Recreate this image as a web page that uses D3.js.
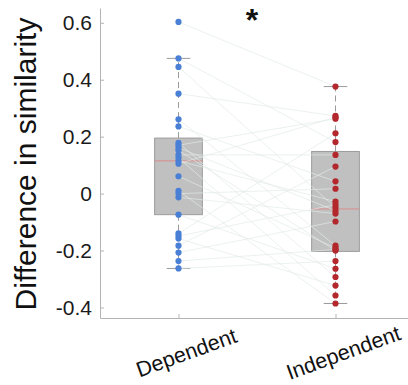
<!DOCTYPE html>
<html>
<head>
<meta charset="utf-8">
<script src="https://cdn.jsdelivr.net/npm/d3@7"></script>
<style>
  html, body { margin: 0; padding: 0; background: #fff; }
  svg { display: block; }
  text { font-family: "Liberation Sans", Arial, Helvetica, sans-serif; }
</style>
</head>
<body>
<svg id="chart" width="408" height="385"></svg>
<script>
// Conditions on the x axis
const conditions = ["Dependent", "Independent"];

// Per-subject similarity differences (paired: subject i in both arrays)
const dependent = [
  0.603, 0.475, 0.445, 0.351, 0.261, 0.236, 0.178, 0.170, 0.161, 0.152,
  0.136, 0.126, 0.115, 0.105, 0.061, 0.010, 0.000, -0.013, -0.074, -0.140,
  -0.149, -0.158, -0.183, -0.207, -0.237, -0.263
];
const independent = [
  0.376, 0.181, -0.049, 0.273, -0.183, 0.043, -0.293, 0.263, -0.060, -0.200,
  0.136, -0.358, -0.028, 0.268, -0.191, -0.386, 0.017, -0.070, -0.264, 0.212,
  -0.039, -0.323, 0.095, -0.098, -0.196, -0.237
];

// Box summaries per condition: [lower whisker, Q1, median, Q3, upper whisker]
const boxDependent   = [-0.263, -0.074, 0.115, 0.195, 0.475];
const boxIndependent = [-0.386, -0.203, -0.054, 0.148, 0.376];

// Y tick values
const yTicks = [-0.4, -0.2, 0, 0.2, 0.4, 0.6];

const svg = d3.select("#chart");

const x = d3.scaleLinear().domain([0.5, 2.5]).range([100, 414]);
const y = d3.scaleLinear().domain([-0.437, 0.652]).range([318, 8]);

const axisColor = "#b4b4b4";
const boxHalf = 0.152;   // half box width, in x units
const capHalf = 0.075;   // half whisker-cap width

// Y axis (ticks pointing inward)
const yAxis = svg.append("g")
  .attr("transform", `translate(${x(0.5)},0)`)
  .call(d3.axisLeft(y).tickValues(yTicks).tickSizeInner(-4).tickSizeOuter(0)
    .tickPadding(8).tickFormat(d => d === 0 ? "0" : String(d)));
yAxis.select(".domain").attr("stroke", axisColor);
yAxis.selectAll(".tick line").attr("stroke", axisColor);
yAxis.selectAll(".tick text").attr("fill", "#1a1a1a").style("font-size", "21px");

// X axis (ticks pointing inward, labels drawn separately)
const xAxis = svg.append("g")
  .attr("transform", `translate(0,${y(-0.437)})`)
  .call(d3.axisBottom(x).tickValues([1, 2]).tickSizeInner(-4).tickSizeOuter(0)
    .tickFormat(""));
xAxis.select(".domain").attr("stroke", axisColor);
xAxis.selectAll(".tick line").attr("stroke", axisColor);

// Rotated category labels
svg.append("g").selectAll("text")
  .data(conditions)
  .join("text")
  .attr("transform", (d, i) => `translate(${x(i + 1) + 8},353) rotate(-20)`)
  .attr("text-anchor", "middle")
  .attr("dominant-baseline", "central")
  .attr("fill", "#111")
  .style("font-size", "21.5px")
  .text(d => d);

// Y axis title
svg.append("text")
  .attr("transform", `translate(36,164) rotate(-90)`)
  .attr("text-anchor", "middle")
  .attr("fill", "#111")
  .style("font-size", "30px")
  .text("Difference in similarity");

// Boxes, whiskers, medians
const boxes = [boxDependent, boxIndependent];
const boxG = svg.append("g");
boxes.forEach((b, i) => {
  const cx = i + 1;
  const [lo, q1, med, q3, hi] = b;
  // whiskers (dashed)
  boxG.append("line")
    .attr("x1", x(cx)).attr("x2", x(cx))
    .attr("y1", y(q3)).attr("y2", y(hi))
    .attr("stroke", "#9a9a9a").attr("stroke-width", 1).attr("stroke-dasharray", "6,4");
  boxG.append("line")
    .attr("x1", x(cx)).attr("x2", x(cx))
    .attr("y1", y(q1)).attr("y2", y(lo))
    .attr("stroke", "#9a9a9a").attr("stroke-width", 1).attr("stroke-dasharray", "6,4");
  // caps
  [lo, hi].forEach(v => {
    boxG.append("line")
      .attr("x1", x(cx - capHalf)).attr("x2", x(cx + capHalf))
      .attr("y1", y(v)).attr("y2", y(v))
      .attr("stroke", "#9a9a9a").attr("stroke-width", 1);
  });
  // box
  boxG.append("rect")
    .attr("x", x(cx - boxHalf)).attr("width", x(cx + boxHalf) - x(cx - boxHalf))
    .attr("y", y(q3)).attr("height", y(q1) - y(q3))
    .attr("fill", "#c0c0c0").attr("stroke", "#9c9c9c").attr("stroke-width", 1);
  // median
  boxG.append("line")
    .attr("x1", x(cx - boxHalf)).attr("x2", x(cx + boxHalf))
    .attr("y1", y(med)).attr("y2", y(med))
    .attr("stroke", "#d98c8c").attr("stroke-width", 1);
});

// Paired subject lines
svg.append("g").selectAll("line")
  .data(dependent.map((d, i) => [d, independent[i]]))
  .join("line")
  .attr("x1", x(1)).attr("x2", x(2))
  .attr("y1", d => y(d[0])).attr("y2", d => y(d[1]))
  .attr("stroke", "#e2ebe8").attr("stroke-width", 0.9).attr("opacity", 0.75);

// Subject points
svg.append("g").selectAll("circle")
  .data(dependent)
  .join("circle")
  .attr("cx", x(1)).attr("cy", d => y(d)).attr("r", 3.1)
  .attr("fill", "#4a7fd6");
svg.append("g").selectAll("circle")
  .data(independent)
  .join("circle")
  .attr("cx", x(2)).attr("cy", d => y(d)).attr("r", 3.1)
  .attr("fill", "#b3282c");

// Significance marker
svg.append("text")
  .attr("x", 252).attr("y", 31)
  .attr("text-anchor", "middle")
  .attr("fill", "#111")
  .style("font-size", "32px")
  .style("font-weight", "bold")
  .text("*");
</script>
</body>
</html>
